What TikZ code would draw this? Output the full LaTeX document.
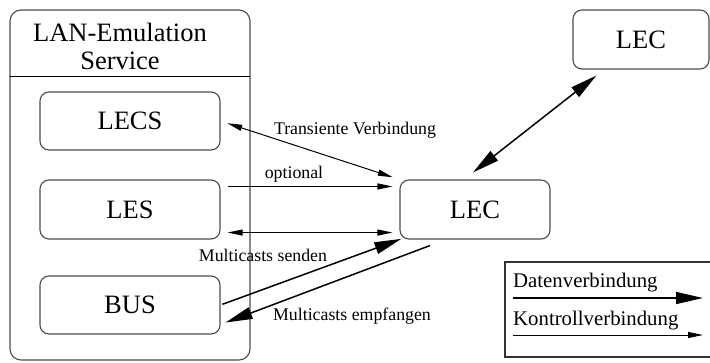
\documentclass[tikz,border=0pt]{standalone}
\usepackage{fontspec}
\setmainfont{Liberation Serif}
\usetikzlibrary{arrows.meta}
\tikzset{
  box/.style={draw=black!70, line width=1.1pt, rounded corners=9pt, minimum width=180pt, minimum height=58pt, inner sep=0pt, font=\fontsize{26.5}{28}\selectfont},
  lbl/.style={inner sep=0pt, font=\fontsize{17.8}{19}\selectfont},
  leglbl/.style={inner sep=0pt, anchor=west, font=\fontsize{20.8}{22}\selectfont},
  datatip/.tip={Triangle[length=27pt, width=12pt]},
  ctrltip/.tip={Triangle[length=15pt, width=6pt]},
  ctrl/.style={line width=1pt, black},
  data/.style={line width=1.5pt, black},
}
\begin{document}
\begin{tikzpicture}[x=1pt, y=-1pt]
\useasboundingbox (0,0) rectangle (710,362);
% outer service box
\node[draw=black!70, line width=1.1pt, rounded corners=11pt, minimum width=240pt, minimum height=350pt, inner sep=0pt] (svc) at (130,185) {};
\node[inner sep=0pt, align=center, font=\fontsize{26.5}{28}\selectfont] (title) at (120,46) {LAN-Emulation\\Service};
\coordinate (divl) at (10,76);
\coordinate (divr) at (250,76);
\draw[line width=1pt] (divl) -- (divr);
% inner boxes
\node[box] (lecs) at (130,121) {LECS};
\node[box, minimum height=59pt] (lesb) at (130,209.5) {LES};
\node[box] (bus) at (130,305) {BUS};
% LECs
\node[box, minimum width=150pt, minimum height=59pt] (lec) at (475,209.5) {LEC};
\node[box, minimum width=136pt, minimum height=59pt] (lectop) at (641,39.5) {LEC};
% legend
\node[draw=black!80, line width=1.1pt, minimum width=207pt, minimum height=95pt, inner sep=0pt] (legend) at (608.5,309.5) {};
% control connections
\draw[ctrl, {ctrltip}-{ctrltip}, shorten <=7pt, shorten >=7pt] (lecs.east) -- (lec.north west);
\draw[ctrl, -{ctrltip}, shorten <=7pt, shorten >=7pt] ([yshift=-7pt]lesb.north east) -- ([yshift=-7pt]lec.north west);
\draw[ctrl, {ctrltip}-{ctrltip}, shorten <=7pt, shorten >=7pt] ([yshift=7pt]lesb.south east) -- ([yshift=7pt]lec.south west);
% data connections
\draw[data, -{datatip}, shorten <=2pt, shorten >=-2pt] (bus.east) -- (lec.south west);
\draw[data, -{datatip}] ([xshift=-45pt,yshift=-6pt]lec.south) -- ([xshift=5pt,yshift=12pt]bus.south east);
\draw[data, {datatip}-{datatip}] ([xshift=-2pt,yshift=7pt]lec.north) -- ([xshift=24pt,yshift=-6pt]lectop.south west);
% labels
\node[lbl] (ltrans) at (355,130) {Transiente Verbindung};
\node[lbl] (lopt) at (294,174) {optional};
\node[lbl] (lsend) at (263,255) {Multicasts senden};
\node[lbl] (lrecv) at (352,316) {Multicasts empfangen};
% legend content
\node[leglbl] (ldata) at (513,283) {Datenverbindung};
\node[leglbl] (lctrl) at (513,321) {Kontrollverbindung};
\coordinate (d1) at (513,298);
\coordinate (d2) at (703,298);
\coordinate (k1) at (513,335);
\coordinate (k2) at (703,335);
\draw[data, -{datatip}] (d1) -- (d2);
\draw[ctrl, -{ctrltip}] (k1) -- (k2);
\end{tikzpicture}
\end{document}
